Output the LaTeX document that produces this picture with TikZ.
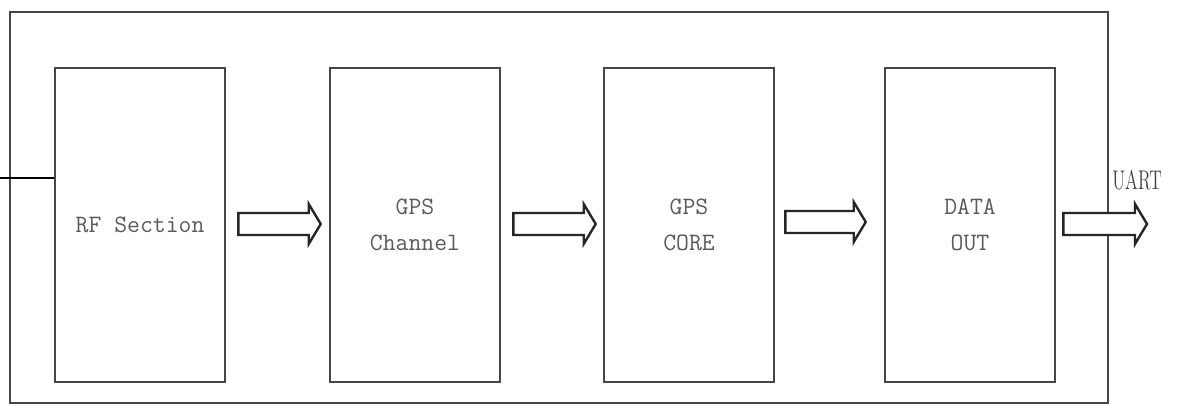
\documentclass[tikz,border=0pt]{standalone}
\usepackage{fontspec}
\usetikzlibrary{calc,positioning}
\definecolor{FrameGray}{RGB}{70,70,70}
\definecolor{LabelGray}{RGB}{90,90,90}
\tikzset{
  block/.style={draw=FrameGray,line width=1.3pt,minimum width=85pt,
    minimum height=157pt,inner sep=0pt,align=center,text=LabelGray,
    font=\ttfamily\fontsize{12.5}{18}\selectfont},
  fatline/.style={draw=black!85,line width=1.2pt,fill=white,line join=miter}
}
% block arrow from #1 to #2, both at the same height
\newcommand{\fatarrow}[2]{%
  \draw[fatline] ($(#1)+(0,-11)$) -- ($(#2)+(-12,-11)$) -- ($(#2)+(-12,-20)$)
    -- (#2) -- ($(#2)+(-12,20)$) -- ($(#2)+(-12,11)$) -- ($(#1)+(0,11)$) -- cycle;}

\begin{document}
\begin{tikzpicture}[x=0.5pt,y=-0.5pt]
  \useasboundingbox (0,0) rectangle (1187,405);
  \draw[FrameGray,line width=1.3pt] (10,12) rectangle (1108,403);
  \node[block] (rf)   at (140,225) {RF Section};
  \node[block] (chan) at (415,225) {GPS\\Channel};
  \node[block] (core) at (689,225) {GPS\\CORE};
  \node[block] (dout) at (970,225) {DATA\\OUT};
  % input line
  \coordinate (in) at (0,178);
  \draw[black,line width=1pt] (in) -- (in -| rf.west);
  % block arrows
  \coordinate (a1) at ($(rf.east)+(12,-1)$);
  \coordinate (a2) at ($(chan.east)+(12,-1)$);
  \coordinate (a3) at ($(core.east)+(10,-3)$);
  \coordinate (a4) at ($(dout.east)+(7,-1)$);
  \coordinate (out) at (1147,224);
  \fatarrow{a1}{$(a1 -| chan.west)+(-8,0)$}
  \fatarrow{a2}{$(a2 -| core.west)+(-7,0)$}
  \fatarrow{a3}{$(a3 -| dout.west)+(-18,0)$}
  \fatarrow{a4}{out}
  \node[text=black!75,font=\fontsize{13.5}{16}\selectfont,xscale=0.65]
    (uart) at (1137,180) {UART};
\end{tikzpicture}
\end{document}
